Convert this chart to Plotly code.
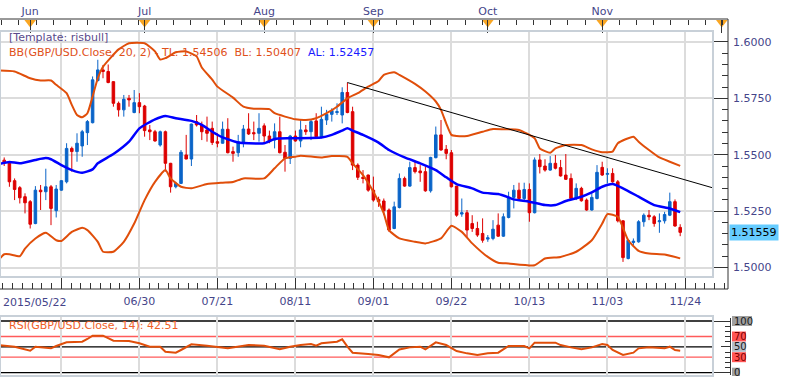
import pandas as pd
import plotly.graph_objects as go

# ---------------- data ----------------
dates = pd.bdate_range("2015-05-22", "2015-11-23")

opens = [1.5654,1.5476,1.5462,1.5385,1.5354,1.5314,1.5292,1.5195,1.5343,1.5336,
         1.5358,1.5252,1.5343,1.5380,1.5528,1.5514,1.5539,1.5598,1.5642,1.5829,
         1.5876,1.5869,1.5824,1.5728,1.5699,1.5750,1.5687,1.5731,1.5716,1.5610,
         1.5602,1.5543,1.5602,1.5462,1.5358,1.5373,1.5499,1.5481,1.5647,1.5632,
         1.5610,1.5617,1.5558,1.5551,1.5613,1.5514,1.5509,1.5558,1.5614,1.5598,
         1.5595,1.5628,1.5583,1.5565,1.5602,1.5511,1.5484,1.5583,1.5561,1.5610,
         1.5602,1.5650,1.5580,1.5654,1.5679,1.5687,1.5676,1.5776,1.5691,1.5454,
         1.5400,1.5410,1.5343,1.5302,1.5295,1.5255,1.5173,1.5266,1.5395,1.5361,
         1.5443,1.5428,1.5425,1.5340,1.5487,1.5588,1.5524,1.5509,1.5361,1.5237,
         1.5243,1.5195,1.5173,1.5151,1.5126,1.5129,1.5188,1.5139,1.5222,1.5311,
         1.5343,1.5306,1.5346,1.5243,1.5477,1.5450,1.5432,1.5462,1.5443,1.5410,
         1.5395,1.5306,1.5351,1.5299,1.5255,1.5306,1.5444,1.5413,1.5417,1.5380,
         1.5207,1.5040,1.5111,1.5114,1.5203,1.5232,1.5225,1.5203,1.5207,1.5232,
         1.5292,1.5178]
highs = [1.5666,1.5488,1.5466,1.5395,1.5361,1.5329,1.5299,1.5361,1.5366,1.5438,
         1.5366,1.5366,1.5388,1.5551,1.5536,1.5595,1.5610,1.5654,1.5847,1.5921,
         1.5898,1.5900,1.5826,1.5736,1.5765,1.5765,1.5787,1.5773,1.5721,1.5632,
         1.5610,1.5607,1.5607,1.5464,1.5380,1.5521,1.5588,1.5638,1.5676,1.5647,
         1.5669,1.5647,1.5595,1.5647,1.5662,1.5536,1.5588,1.5632,1.5684,1.5647,
         1.5684,1.5639,1.5607,1.5639,1.5669,1.5543,1.5588,1.5607,1.5654,1.5632,
         1.5654,1.5684,1.5713,1.5699,1.5706,1.5728,1.5799,1.5820,1.5713,1.5462,
         1.5432,1.5412,1.5403,1.5314,1.5306,1.5262,1.5292,1.5417,1.5403,1.5469,
         1.5469,1.5454,1.5447,1.5491,1.5625,1.5654,1.5543,1.5521,1.5361,1.5306,
         1.5255,1.5232,1.5203,1.5218,1.5144,1.5210,1.5240,1.5240,1.5336,1.5366,
         1.5376,1.5376,1.5373,1.5488,1.5503,1.5480,1.5494,1.5499,1.5477,1.5503,
         1.5417,1.5373,1.5358,1.5306,1.5329,1.5454,1.5469,1.5440,1.5440,1.5388,
         1.5210,1.5121,1.5129,1.5210,1.5240,1.5255,1.5232,1.5240,1.5247,1.5332,
         1.5302,1.5192]
lows = [1.5469,1.5450,1.5358,1.5299,1.5284,1.5240,1.5173,1.5192,1.5255,1.5299,
        1.5188,1.5222,1.5340,1.5373,1.5425,1.5469,1.5491,1.5543,1.5639,1.5824,
        1.5839,1.5817,1.5713,1.5669,1.5669,1.5713,1.5684,1.5684,1.5580,1.5565,
        1.5558,1.5536,1.5425,1.5332,1.5351,1.5370,1.5480,1.5450,1.5625,1.5565,
        1.5558,1.5543,1.5533,1.5549,1.5506,1.5469,1.5491,1.5533,1.5588,1.5565,
        1.5558,1.5551,1.5551,1.5528,1.5506,1.5425,1.5459,1.5558,1.5533,1.5588,
        1.5565,1.5573,1.5573,1.5632,1.5647,1.5676,1.5639,1.5684,1.5432,1.5388,
        1.5373,1.5336,1.5292,1.5269,1.5232,1.5158,1.5170,1.5262,1.5358,1.5358,
        1.5417,1.5380,1.5336,1.5332,1.5484,1.5518,1.5480,1.5355,1.5225,1.5225,
        1.5136,1.5158,1.5136,1.5110,1.5114,1.5121,1.5136,1.5136,1.5218,1.5262,
        1.5302,1.5299,1.5203,1.5240,1.5417,1.5425,1.5429,1.5435,1.5403,1.5388,
        1.5302,1.5299,1.5292,1.5252,1.5252,1.5302,1.5406,1.5373,1.5376,1.5200,
        1.5025,1.5036,1.5099,1.5110,1.5181,1.5210,1.5181,1.5154,1.5195,1.5228,
        1.5181,1.5139]
closes = [1.5477,1.5466,1.5380,1.5346,1.5309,1.5287,1.5192,1.5343,1.5336,1.5358,
          1.5262,1.5348,1.5385,1.5528,1.5514,1.5551,1.5602,1.5647,1.5832,1.5876,
          1.5869,1.5820,1.5728,1.5699,1.5746,1.5743,1.5731,1.5713,1.5607,1.5602,
          1.5561,1.5602,1.5462,1.5358,1.5373,1.5511,1.5481,1.5636,1.5632,1.5602,
          1.5595,1.5554,1.5551,1.5613,1.5509,1.5506,1.5558,1.5614,1.5592,1.5593,
          1.5617,1.5583,1.5558,1.5602,1.5509,1.5484,1.5583,1.5561,1.5610,1.5602,
          1.5647,1.5580,1.5657,1.5679,1.5696,1.5691,1.5776,1.5687,1.5454,1.5400,
          1.5395,1.5343,1.5299,1.5292,1.5252,1.5166,1.5269,1.5395,1.5361,1.5443,
          1.5425,1.5420,1.5340,1.5488,1.5588,1.5521,1.5506,1.5358,1.5232,1.5243,
          1.5166,1.5173,1.5144,1.5121,1.5132,1.5170,1.5139,1.5225,1.5311,1.5343,
          1.5306,1.5346,1.5243,1.5477,1.5447,1.5432,1.5462,1.5440,1.5406,1.5391,
          1.5306,1.5351,1.5296,1.5255,1.5311,1.5422,1.5410,1.5417,1.5380,1.5207,
          1.5044,1.5121,1.5117,1.5203,1.5232,1.5225,1.5195,1.5207,1.5235,1.5292,
          1.5184,1.51559]

# Bollinger(20, 2) at these bar numbers
bb_upper_idx = [0,3,6,8,10,11,13,14,15,16,17,18,19,20,23,25,28,30,31,32,34,36,38,39,41,42,45,47,49,52,
                53,55,57,59,61,63,65,67,69,71,73,74,76,77,80,82,84,85,86,87,88,90,93,95,97,100,103,104,106,107,
                109,112,114,116,118,119,122,123,125,127,129,131]
bb_upper = [1.5873,1.5869,1.5839,1.5829,1.5829,1.5810,1.5773,1.5721,1.5676,1.5666,
            1.5684,1.5758,1.5839,1.5890,1.5967,1.5994,1.5994,1.5958,1.5922,1.5928,
            1.5954,1.5958,1.5936,1.5887,1.5833,1.5802,1.5753,1.5713,1.5704,1.5702,
            1.5684,1.5669,1.5657,1.5654,1.5662,1.5684,1.5713,1.5750,1.5773,1.5802,
            1.5827,1.5854,1.5866,1.5854,1.5814,1.5780,1.5736,1.5699,1.5639,1.5588,
            1.5583,1.5583,1.5602,1.5614,1.5613,1.5610,1.5573,1.5528,1.5509,1.5528,
            1.5543,1.5543,1.5524,1.5511,1.5514,1.5551,1.5580,1.5558,1.5521,1.5488,
            1.5469,1.54506]
bb_mid_idx = [0,2,4,7,9,10,12,14,16,18,19,22,25,27,30,32,34,37,39,41,43,46,48,51,53,56,62,64,66,67,
              68,70,73,75,78,81,84,86,88,91,93,96,98,99,102,105,107,109,112,114,116,118,120,123,126,129,131]
bb_mid = [1.5459,1.5468,1.5462,1.5477,1.5485,1.5480,1.5454,1.5432,1.5420,1.5435,
          1.5462,1.5503,1.5558,1.5617,1.5657,1.5672,1.5662,1.5650,1.5632,1.5602,
          1.5577,1.5554,1.5551,1.5551,1.5570,1.5573,1.5576,1.5588,1.5607,1.5617,
          1.5607,1.5588,1.5554,1.5521,1.5488,1.5462,1.5432,1.5400,1.5370,1.5351,
          1.5332,1.5326,1.5311,1.5302,1.5292,1.5277,1.5277,1.5295,1.5314,1.5333,
          1.5358,1.5370,1.5351,1.5314,1.5277,1.5262,1.52457]
bb_lower_idx = [0,1,2,4,5,7,9,11,12,14,16,17,19,20,22,24,26,28,30,32,33,35,37,40,43,45,47,51,53,55,
                57,58,62,64,67,68,70,72,74,75,77,80,82,85,87,89,91,94,96,98,103,105,108,111,114,116,117,119,121,123,
                125,128,131]
bb_lower = [1.5036,1.5059,1.5059,1.5050,1.5084,1.5129,1.5154,1.5121,1.5118,1.5158,
            1.5176,1.5166,1.5114,1.5070,1.5070,1.5114,1.5195,1.5299,1.5380,1.5432,
            1.5395,1.5358,1.5351,1.5370,1.5376,1.5379,1.5395,1.5395,1.5440,1.5484,
            1.5491,1.5496,1.5488,1.5494,1.5491,1.5462,1.5410,1.5336,1.5240,1.5166,
            1.5129,1.5114,1.5107,1.5129,1.5185,1.5158,1.5107,1.5047,1.5021,1.5018,
            1.5010,1.5040,1.5047,1.5070,1.5121,1.5195,1.5237,1.5225,1.5121,1.5074,
            1.5062,1.5058,1.50407]

# RSI(14)
rsi_idx = [0,3,6,7,10,11,13,16,17,18,20,22,25,27,29,31,32,34,35,37,40,42,44,48,51,54,56,58,60,61,
           62,65,66,67,68,71,73,75,77,79,81,82,84,86,88,90,92,94,96,98,101,102,103,107,108,110,112,114,116,117,
           118,120,122,123,125,128,129,130,131]
rsi = [53.5,50.3,42.6,50.3,47.1,51.6,58.7,60.0,65.2,71.6,
       71.6,61.9,61.3,56.8,50.3,50.3,40.6,38.7,43.9,54.8,
       52.3,50.3,47.1,53.5,52.3,45.2,50.3,53.5,55.5,52.3,
       56.8,60.0,64.5,50.3,38.7,36.1,34.2,29.7,45.0,49.0,
       50.3,45.2,58.7,53.5,41.9,37.4,34.2,37.4,38.7,51.6,
       51.6,47.1,58.1,58.1,53.5,49.0,45.2,49.0,55.5,53.5,
       43.9,34.2,38.7,47.1,49.0,47.1,50.3,43.9,42.51]
rsi_levels = [100, 70, 50, 30, 0]

# hand-drawn trend line (bar number, price)
trend_x = [67, 137.3]
trend_y = [1.5820, 1.5353]

# top date ruler: month marks
month_idx = [6, 28, 51, 72, 94, 116, 139]
month_lbl = ["Jun", "Jul", "Aug", "Sep", "Oct", "Nov", ""]

# bottom date ruler: grid every 15 bars
grid_idx = list(range(12, 133, 15))
grid_lbl = [""] + [dates[i].strftime("%m/%d") if i < len(dates) else
                   (dates[-1] + pd.offsets.BDay(i - len(dates) + 1)).strftime("%m/%d")
                   for i in grid_idx[1:]]

# ---------------- geometry helpers ----------------
W, H = 786, 378
FONT = "DejaVu Sans"
TXT = "#45458a"
BLUE_C, RED_C = "#0a64c8", "#dd0000"
BAND = "#e04e0a"

def fx(px): return px / W
def fy(py): return 1 - py / H
def bar_at(px): return (px + 1.0) / 5.2
def price_at(py): return 1.55 - (py - 154.74) / 2256.0
def rsi_at(py): return (372.7 - py) / 0.517

MAIN_R, RULER_X = 713, 728
idx = list(range(len(dates)))

fig = go.Figure()

fig.add_trace(go.Candlestick(
    x=idx, open=opens, high=highs, low=lows, close=closes,
    increasing=dict(line=dict(color=BLUE_C, width=1), fillcolor=BLUE_C),
    decreasing=dict(line=dict(color=RED_C, width=1), fillcolor=RED_C),
    whiskerwidth=0, hoverinfo="skip", xaxis="x", yaxis="y"))
fig.add_trace(go.Scatter(x=bb_upper_idx, y=bb_upper, mode="lines",
                         line=dict(color=BAND, width=2, shape="spline", smoothing=0.5),
                         xaxis="x", yaxis="y"))
fig.add_trace(go.Scatter(x=bb_lower_idx, y=bb_lower, mode="lines",
                         line=dict(color=BAND, width=2, shape="spline", smoothing=0.5),
                         xaxis="x", yaxis="y"))
fig.add_trace(go.Scatter(x=bb_mid_idx, y=bb_mid, mode="lines",
                         line=dict(color="#0000ff", width=2.5, shape="spline", smoothing=0.5),
                         xaxis="x", yaxis="y"))
fig.add_trace(go.Scatter(x=trend_x, y=trend_y, mode="lines",
                         line=dict(color="#000000", width=1), xaxis="x", yaxis="y"))
fig.add_trace(go.Scatter(x=rsi_idx, y=rsi, mode="lines",
                         line=dict(color=BAND, width=2), xaxis="x2", yaxis="y2"))
fig.add_trace(go.Scatter(x=month_idx, y=[0.6] * len(month_idx), mode="markers",
                         marker=dict(symbol="triangle-down", size=10, color="#f9a623"),
                         xaxis="x4", yaxis="y5"))
# invisible carriers so that the ruler axes get drawn
ghost = dict(mode="markers", marker=dict(opacity=0, size=1), hoverinfo="skip")
fig.add_trace(go.Scatter(x=idx, y=closes, xaxis="x", yaxis="y3", **ghost))
fig.add_trace(go.Scatter(x=rsi_idx, y=rsi, xaxis="x2", yaxis="y4", **ghost))
fig.add_trace(go.Scatter(x=rsi_idx, y=rsi, xaxis="x2", yaxis="y6", **ghost))
fig.add_trace(go.Scatter(x=idx, y=[0.5] * len(idx), xaxis="x3", yaxis="y7", **ghost))

x_rng = [bar_at(0), bar_at(MAIN_R)]
ruler_rng = [bar_at(0), bar_at(RULER_X)]
p_rng = [price_at(277), price_at(31)]
r_rng = [rsi_at(376), rsi_at(316)]
axis_font = dict(family=FONT, size=11, color=TXT)

layout = dict(
    width=W, height=H, margin=dict(l=0, r=0, t=0, b=0, autoexpand=False),
    paper_bgcolor="white", plot_bgcolor="white", showlegend=False,
    xaxis=dict(domain=[0, fx(MAIN_R)], range=x_rng, anchor="y",
               tickmode="array", tickvals=grid_idx, showticklabels=False, ticks="",
               showgrid=True, gridcolor="#dcdcdc", gridwidth=1.5, zeroline=False,
               rangeslider=dict(visible=False)),
    yaxis=dict(domain=[fy(277), fy(31)], range=p_rng, anchor="x",
               tickmode="linear", tick0=1.5, dtick=0.025, showticklabels=False,
               ticks="", showgrid=True, gridcolor="#dcdcdc", gridwidth=1.5, zeroline=False),
    xaxis2=dict(domain=[0, fx(MAIN_R)], range=x_rng, anchor="y2",
                tickmode="array", tickvals=grid_idx, showticklabels=False, ticks="",
                showgrid=True, gridcolor="#dcdcdc", gridwidth=1.5, zeroline=False),
    yaxis2=dict(domain=[fy(376), fy(316)], range=r_rng, anchor="x2",
                showticklabels=False, ticks="", showgrid=False, zeroline=False),
    xaxis3=dict(domain=[0, fx(RULER_X)], range=ruler_rng, anchor="free", position=fy(289),
                tickmode="array", tickvals=grid_idx, ticktext=grid_lbl,
                ticks="inside", ticklen=12, tickcolor="#333333", tickwidth=1,
                minor=dict(ticks="inside", ticklen=6, tickmode="linear", tick0=12, dtick=1.875,
                           tickcolor="#333333", showgrid=False),
                tickfont=axis_font, ticklabelstandoff=4,
                showgrid=False, zeroline=False, showline=False),
    yaxis7=dict(domain=[fy(300), fy(290)], range=[0, 1], anchor="x3", visible=False),
    xaxis4=dict(domain=[0, fx(RULER_X)], range=ruler_rng, anchor="free", position=fy(19),
                side="top", tickmode="array", tickvals=month_idx, ticktext=month_lbl,
                ticks="inside", ticklen=13, tickcolor="#333333", tickwidth=1,
                minor=dict(ticks="inside", ticklen=5, tickmode="linear", tick0=bar_at(1.7), dtick=3.3,
                           tickcolor="#333333", showgrid=False),
                tickfont=axis_font, ticklabelstandoff=2,
                showgrid=False, zeroline=False, showline=False),
    yaxis3=dict(overlaying="y", anchor="free", position=fx(RULER_X), side="right",
                range=p_rng, tickmode="linear", tick0=1.5, dtick=0.025, tickformat=".4f",
                ticks="inside", ticklen=15, tickcolor="#333333",
                minor=dict(ticks="inside", ticklen=6, tickmode="linear", tick0=1.5, dtick=0.005,
                           tickcolor="#333333", showgrid=False),
                tickfont=axis_font, ticklabelstandoff=4,
                showgrid=False, zeroline=False, showline=False),
    yaxis4=dict(overlaying="y2", anchor="free", position=fx(730.5), side="right",
                range=r_rng, tickmode="array", tickvals=[0, 100], ticks="inside", ticklen=17,
                tickcolor="#333333", showticklabels=False,
                minor=dict(ticks="inside", ticklen=6, tickmode="linear", tick0=0, dtick=10,
                           tickcolor="#333333", showgrid=False),
                showgrid=False, zeroline=False, showline=False),
    yaxis6=dict(overlaying="y2", anchor="free", position=fx(730.5), side="right",
                range=r_rng, tickmode="array", tickvals=[50], ticks="inside", ticklen=10,
                tickcolor="#333333", showticklabels=False,
                showgrid=False, zeroline=False, showline=False),
    yaxis5=dict(domain=[fy(31), fy(17)], range=[0, 1], anchor="x4", visible=False),
)
fig.update_layout(**layout)

shapes = []
# panel borders
for top, bot in [(31, 277), (316, 376)]:
    shapes.append(dict(type="rect", xref="paper", yref="paper", x0=fx(0), x1=fx(MAIN_R),
                       y0=fy(bot), y1=fy(top), line=dict(color="#c8d0d8", width=2), layer="above"))
# ruler frame
frame = "#333333"
shapes.append(dict(type="line", xref="paper", yref="paper", x0=0, x1=fx(RULER_X),
                   y0=fy(19), y1=fy(19), line=dict(color=frame, width=1)))
shapes.append(dict(type="line", xref="paper", yref="paper", x0=0, x1=fx(RULER_X),
                   y0=fy(289), y1=fy(289), line=dict(color=frame, width=1)))
shapes.append(dict(type="line", xref="paper", yref="paper", x0=fx(RULER_X), x1=fx(RULER_X),
                   y0=fy(289), y1=fy(19), line=dict(color=frame, width=1)))
shapes.append(dict(type="line", xref="paper", yref="paper", x0=fx(730.5), x1=fx(730.5),
                   y0=fy(375), y1=fy(318), line=dict(color=frame, width=1)))
# RSI level lines
for lv in rsi_levels:
    col = "#ff5a5a" if lv in (30, 70) else "#000000"
    shapes.append(dict(type="line", xref="x2 domain", yref="y2", x0=0, x1=1, y0=lv, y1=lv,
                       line=dict(color=col, width=1.3), layer="below"))
# RSI level label backgrounds
lab_w = {100: 20, 70: 14, 50: 14, 30: 14, 0: 8}
lab_bg = {100: "#a0a0a0", 70: "#ff5555", 50: "#b4bcc8", 30: "#ff5555", 0: "#a0a0a0"}
half = 5 / 0.517
for lv in rsi_levels:
    shapes.append(dict(type="rect", xref="paper", yref="y2", x0=fx(732), x1=fx(732 + lab_w[lv]),
                       y0=lv - half, y1=lv + half, fillcolor=lab_bg[lv], line=dict(width=0)))
fig.update_layout(shapes=shapes)

ann = []
ann.append(dict(text="[Template: risbull]", xref="paper", yref="paper", x=fx(7), y=fy(38),
                xanchor="left", yanchor="middle", showarrow=False,
                font=dict(family=FONT, size=11, color="#5a4a8c")))
bb_txt = ("BB(GBP/USD.Close, 20, 2) - TL: {:.5f}  BL: {:.5f}  "
          "<span style='color:#1a1aff'>AL: {:.5f}</span>").format(bb_upper[-1], bb_lower[-1], bb_mid[-1])
ann.append(dict(text=bb_txt, xref="paper", yref="paper", x=fx(7), y=fy(52),
                xanchor="left", yanchor="middle", showarrow=False,
                font=dict(family=FONT, size=11, color="#e0501a")))
ann.append(dict(text="RSI(GBP/USD.Close, 14): {:.2f}".format(rsi[-1]), xref="paper", yref="paper",
                x=fx(7), y=fy(325), xanchor="left", yanchor="middle", showarrow=False,
                font=dict(family=FONT, size=11, color="#f06028")))
ann.append(dict(text="{:.5f}".format(closes[-1]), xref="paper", yref="y", x=fx(729), y=closes[-1],
                xanchor="left", yanchor="middle", showarrow=False, bgcolor="#66ccff", borderpad=1,
                font=dict(family=FONT, size=11, color="#000000")))
ann.append(dict(text=dates[0].strftime("%Y/%m/%d"), xref="paper", yref="paper", x=fx(1), y=fy(302),
                xanchor="left", yanchor="middle", showarrow=False, font=axis_font))
for lv in rsi_levels:
    tcol = "#7a0000" if lv in (30, 70) else "#1a1a1a"
    ann.append(dict(text=str(lv), xref="paper", yref="y2", x=fx(732), y=lv,
                    xanchor="left", yanchor="middle", showarrow=False,
                    font=dict(family=FONT, size=10, color=tcol)))
fig.update_layout(annotations=ann)

fig.write_html("out.html", config={"displayModeBar": False},
               post_script="document.body.style.margin='0';document.body.style.overflow='hidden';")
